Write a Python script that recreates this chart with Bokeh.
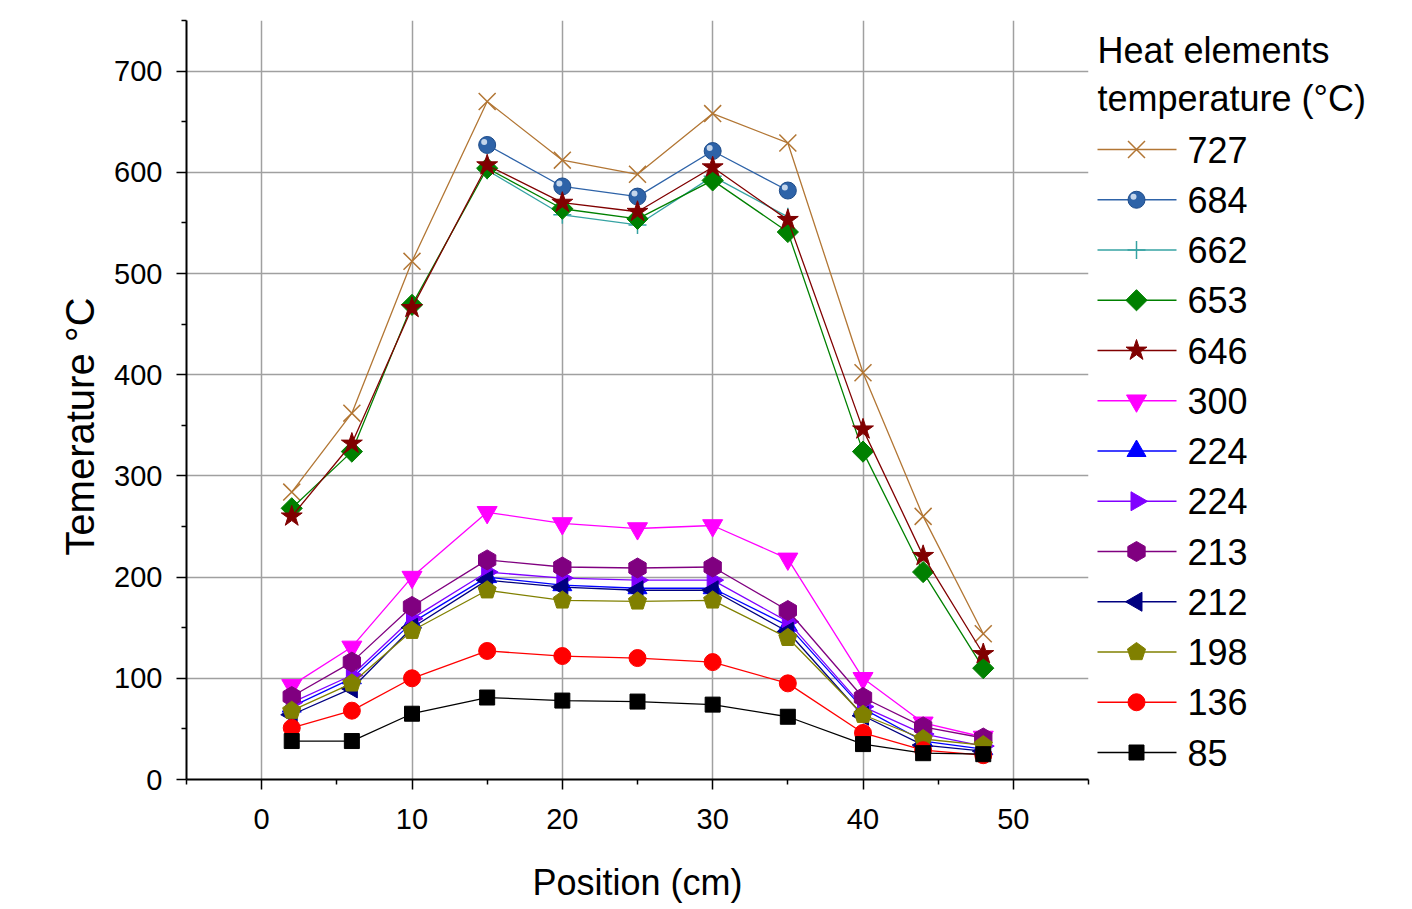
import numpy as np
from bokeh.plotting import figure
from bokeh.layouts import row
from bokeh.models import Range1d, FixedTicker
from bokeh.core.properties import value
from bokeh.embed import file_html
from bokeh.resources import INLINE

# ---------------- data ----------------
positions = [2, 6, 10, 15, 20, 25, 30, 35, 40, 44, 48]
positions_mid = [15, 20, 25, 30, 35]

t727 = [284, 362, 512, 670, 612, 598, 658, 629, 402, 260, 144]
t684 = [627, 586, 576, 621, 582]
t662 = [602, 558, 548, 596, 556]
t653 = [268, 324, 469, 604, 564, 554, 592, 541, 324, 205, 110]
t646 = [260, 332, 466, 607, 570, 561, 605, 553, 346, 221, 124]
t300 = [93, 131, 200, 264, 253, 248, 251, 218, 100, 56, 42]
t224a = [72, 100, 155, 200, 192, 189, 189, 152, 70, 38, 30]
t224b = [76, 103, 159, 205, 199, 197, 197, 156, 72, 45, 33]
t213 = [82, 116, 171, 217, 210, 209, 210, 167, 81, 52, 41]
t212 = [64, 90, 150, 197, 190, 187, 187, 146, 63, 34, 28]
t198 = [68, 95, 147, 187, 177, 176, 177, 140, 64, 40, 34]
t136 = [51, 68, 100, 127, 122, 120, 116, 95, 46, 29, 24]
t85 = [38, 38, 65, 81, 78, 77, 74, 62, 35, 26, 25]

labels = ["727", "684", "662", "653", "646", "300", "224", "224", "213", "212", "198", "136", "85"]
legend_title = ["Heat elements", "temperature (°C)"]
x_title = "Position (cm)"
y_title = "Temerature °C"
x_ticks = [0, 10, 20, 30, 40, 50]
y_ticks = [0, 100, 200, 300, 400, 500, 600, 700]

# (label, xs, ys, color, marker, size, angle, filled)
series = [
    (labels[0], positions, t727, "#B27634", "x", 24, 0.0, False),
    (labels[1], positions_mid, t684, "#2E63A8", "sphere", 17, 0.0, True),
    (labels[2], positions_mid, t662, "#36A3A3", "cross", 18, 0.0, False),
    (labels[3], positions, t653, "#008000", "square", 15, np.pi / 4, True),
    (labels[4], positions, t646, "#800000", "star", 22, 0.0, True),
    (labels[5], positions, t300, "#FF00FF", "inverted_triangle", 20, 0.0, True),
    (labels[6], positions, t224a, "#0000FF", "triangle", 19, 0.0, True),
    (labels[7], positions, t224b, "#8000FF", "triangle", 19, -np.pi / 2, True),
    (labels[8], positions, t213, "#800080", "hex", 20, np.pi / 2, True),
    (labels[9], positions, t212, "#000080", "triangle", 19, np.pi / 2, True),
    (labels[10], positions, t198, "#808000", "pentagon", 9.5, 0.0, True),
    (labels[11], positions, t136, "#FF0000", "circle", 17, 0.0, True),
    (labels[12], positions, t85, "#000000", "square", 15, 0.0, True),
]

FONT = "Liberation Sans"

X0, X1 = -5, 55
Y0, Y1 = 0, 750
FW, FH = 902, 759
TOP, BOTTOM, RIGHT = 20, 120, 8
YLW = 108            # width of the strip holding the y title
LEFT = 186 - YLW     # border left of main frame
SX = (X1 - X0) / FW   # data units per px
SY = (Y1 - Y0) / FH

ANG = np.deg2rad([90, 162, 234, 306, 18])


def pentagons(xs, ys, r, sx, sy):
    px = [list(x + r * np.cos(ANG) * sx) for x in xs]
    py = [list(y + r * np.sin(ANG) * sy) for y in ys]
    return px, py


def draw_marker(fig, xs, ys, color, marker, size, angle, filled, sx, sy):
    if marker == "pentagon":
        px, py = pentagons(xs, ys, size, sx, sy)
        fig.patches(px, py, fill_color=color, line_color=color, line_width=1)
    elif marker == "sphere":
        fig.scatter(xs, ys, marker="circle", size=size, fill_color=color,
                    line_color="#1E4C8A", line_width=1)
        hx = [x - 3 * sx for x in xs]
        hy = [y + 3 * sy for y in ys]
        fig.scatter(hx, hy, marker="circle", size=6, fill_color="#D6E2F2",
                    line_color=None, fill_alpha=0.9)
    elif not filled:
        fig.scatter(xs, ys, marker=marker, size=size, line_color=color,
                    line_width=1.5, fill_color=None)
    else:
        fig.scatter(xs, ys, marker=marker, size=size, angle=angle,
                    fill_color=color, line_color=color, line_width=1)


def blank_fig(w, xr, yr):
    f = figure(frame_width=w, frame_height=FH, x_range=xr, y_range=yr,
               x_axis_type=None, y_axis_type=None,
               output_backend="svg", toolbar_location=None,
               min_border_left=0, min_border_right=0,
               min_border_top=TOP, min_border_bottom=BOTTOM)
    f.outline_line_color = None
    f.grid.visible = False
    f.background_fill_color = "white"
    f.border_fill_color = "white"
    return f


# ---------------- y title strip ----------------
yf = blank_fig(YLW, Range1d(0, YLW), Range1d(0, FH))
yf.text(x=[79], y=[779 - 426], text=[y_title], angle=np.pi / 2,
        text_font=value(FONT), text_font_size="40px", text_color="black",
        text_baseline="middle", text_align="center")

# ---------------- main figure ----------------
p = figure(frame_width=FW, frame_height=FH,
           x_range=Range1d(X0, X1), y_range=Range1d(Y0, Y1),
           output_backend="svg", toolbar_location=None,
           min_border_left=LEFT, min_border_top=TOP,
           min_border_bottom=BOTTOM, min_border_right=RIGHT)
p.outline_line_color = None
p.background_fill_color = "white"
p.border_fill_color = "white"

p.xaxis.ticker = FixedTicker(ticks=x_ticks, minor_ticks=[-5, 5, 15, 25, 35, 45, 55])
p.yaxis.ticker = FixedTicker(ticks=y_ticks, minor_ticks=[50, 150, 250, 350, 450, 550, 650, 750])

p.grid.grid_line_color = "#A0A0A0"
p.grid.grid_line_width = 1.5

for ax in (p.xaxis[0], p.yaxis[0]):
    ax.axis_line_color = "black"
    ax.axis_line_width = 2
    ax.major_tick_line_color = "black"
    ax.major_tick_line_width = 1.5
    ax.minor_tick_line_color = "black"
    ax.minor_tick_line_width = 1.5
    ax.major_tick_in = 0
    ax.major_tick_out = 10
    ax.minor_tick_in = 0
    ax.minor_tick_out = 5
    ax.major_label_text_font = FONT
    ax.major_label_text_font_size = "29px"
    ax.major_label_text_color = "black"
    ax.axis_label_text_font_style = "normal"
    ax.axis_label_text_color = "black"

p.xaxis.axis_label = x_title
p.xaxis.axis_label_text_font = FONT
p.xaxis.axis_label_text_font_size = "36px"
p.xaxis.major_label_standoff = 19
p.xaxis.axis_label_standoff = 30
p.yaxis.major_label_standoff = 14

for (lab, xs, ys, color, marker, size, angle, filled) in series:
    p.line(xs, ys, line_color=color, line_width=1.3)
    draw_marker(p, xs, ys, color, marker, size, angle, filled, SX, SY)

# ---------------- legend figure (page-pixel coordinates) ----------------
LX0 = 186 + FW + RIGHT
LW = 300
lf = blank_fig(LW, Range1d(LX0, LX0 + LW), Range1d(TOP + FH, TOP))

lf.text(x=[LX0 + 1, LX0 + 1], y=[50, 98], text=legend_title,
        text_font=value(FONT), text_font_size="36px", text_color="black",
        text_baseline="middle", text_align="left")

for i, (lab, xs, ys, color, marker, size, angle, filled) in enumerate(series):
    yy = 149 + 50.25 * i
    lf.line([LX0 + 1, LX0 + 80], [yy, yy], line_color=color, line_width=1.5)
    draw_marker(lf, [LX0 + 40], [yy], color, marker, size, angle, filled, 1.0, -1.0)
    lf.text(x=[LX0 + 91], y=[yy], text=[lab], text_font=value(FONT),
            text_font_size="36px", text_color="black",
            text_baseline="middle", text_align="left")

layout = row(yf, p, lf, spacing=0)
open("out.html", "w").write(file_html(layout, INLINE))
